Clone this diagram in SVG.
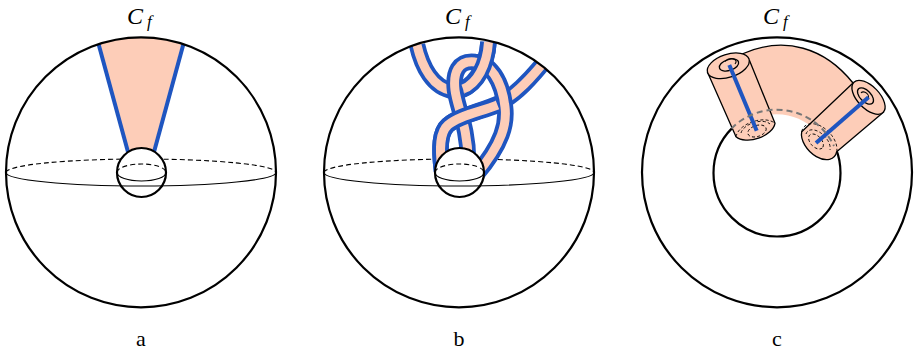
<svg xmlns="http://www.w3.org/2000/svg" xmlns:xlink="http://www.w3.org/1999/xlink" width="914" height="351" viewBox="0 0 914 351">
<style>
.sphere{fill:none;stroke:#000;stroke-width:2.2}
.small{fill:#fff;stroke:#000;stroke-width:2.2}
.thin{fill:none;stroke:#000;stroke-width:1.1}
.dash{fill:none;stroke:#000;stroke-width:1.1;stroke-dasharray:5 3}
.fdash{fill:none;stroke:#000;stroke-width:.9;stroke-dasharray:3 2.2}
.peach{fill:#fdcdb8;stroke:none}
.blue{fill:none;stroke:#1f55c0;stroke-width:4}
.be{fill:none;stroke:#1f55c0;stroke-width:16.5}
.bi{fill:none;stroke:#fdcdb8;stroke-width:9}
.cyl{fill:#fdcdb8;stroke:#000;stroke-width:1.3;stroke-linejoin:round}
.grey{fill:none;stroke:#777;stroke-width:2;stroke-dasharray:6 4}
text{font-family:"Liberation Serif",serif;fill:#000}
.t{font-size:24px;font-style:italic}
.s{font-size:17px}
.l{font-size:22px;text-anchor:middle}
</style>
<defs>
<clipPath id="ca"><circle cx="141" cy="172.3" r="135"/></clipPath>
<clipPath id="cb"><circle cx="459" cy="172.3" r="135"/></clipPath>
<path id="bU" d="M417,45 C422,67 433,88 453,91 C472,92 487,67 488.500,42"/>
<path id="bUtop" d="M463,89 C477,84 487,65 488.500,42"/>
<path id="bLoop" d="M476,175 C503,143 507,123 505,107 C502,80 490,63 475,62 C458,60 453,73 455,90 C457,107 468,127 468,160"/>
<path id="bC" d="M549,56 C530,80 517,93 502,102 C480,112 460,115 448,125 C440,132 439,147 442,171"/>
<path id="bCtop" d="M497.500,105 C480,112 460,115 448,125 C440,132 439,147 442,171"/>
</defs>

<g id="panel-a">
<path class="peach" clip-path="url(#ca)" d="M97,30 L185,30 L154,155 L128,155 Z"/>
<path class="dash" d="M6,172.500 A135,13.500 0 0 1 276,172.500"/>
<g clip-path="url(#ca)">
<path class="blue" d="M98,42 L128,152"/>
<path class="blue" d="M184,42 L154,152"/>
</g>
<circle class="sphere" cx="141" cy="172.300" r="135"/>
<circle class="small" cx="141.500" cy="172.500" r="24.500"/>
<path class="dash" d="M117,172.500 A24.500,8.500 0 0 1 166,172.500"/>
<path class="thin" d="M117,172.500 A24.500,8.500 0 0 0 166,172.500"/>
<path class="thin" d="M6,172.500 A135,13.500 0 0 0 276,172.500"/>
<text class="t" x="127" y="24">C<tspan class="s" x="147" y="27">f</tspan></text>
<text class="l" x="141" y="346">a</text>
</g>

<g id="panel-b">
<path class="dash" d="M324,172.500 A135,13.500 0 0 1 594,172.500"/>
<g clip-path="url(#cb)">
<use xlink:href="#bC" class="be"/><use xlink:href="#bC" class="bi"/>
<use xlink:href="#bU" class="be"/><use xlink:href="#bU" class="bi"/>
<use xlink:href="#bLoop" class="be"/><use xlink:href="#bLoop" class="bi"/>
<use xlink:href="#bUtop" class="be"/><use xlink:href="#bUtop" class="bi"/>
<use xlink:href="#bCtop" class="be"/><use xlink:href="#bCtop" class="bi"/>
</g>
<circle class="sphere" cx="459" cy="172.300" r="135"/>
<circle class="small" cx="459.500" cy="172.500" r="24.500"/>
<path class="dash" d="M435,172.500 A24.500,8.500 0 0 1 484,172.500"/>
<path class="thin" d="M435,172.500 A24.500,8.500 0 0 0 484,172.500"/>
<path class="thin" d="M324,172.500 A135,13.500 0 0 0 594,172.500"/>
<text class="t" x="445" y="24">C<tspan class="s" x="465" y="27">f</tspan></text>
<text class="l" x="459" y="346">b</text>
</g>

<g id="panel-c">
<circle class="sphere" cx="777" cy="172.300" r="135"/>
<circle class="sphere" cx="777" cy="173" r="63.500"/>
<path class="peach" d="M742,54 C785,35 825,48 853,83 L815,130 C805,120 788,112 768,115 L745,80 Z"/>
<path class="thin" style="stroke-width:1.3" d="M742,54 C785,35 825,48 853,83"/>
<g id="tube-left">
<path class="cyl" d="M707.300,71.700 L736,136.700 A21.800,13 -18 0 0 775,123.300 L749.300,60"/>
<ellipse class="cyl" cx="728.300" cy="65.800" rx="21.800" ry="11.500" transform="rotate(-18 728.300 65.800)"/>
<ellipse class="thin" style="stroke-width:1.3" cx="729" cy="65" rx="10" ry="5.500" transform="rotate(-18 729 65)"/>
<path class="thin" d="M725,61.500 A5,3 -18 0 1 735,64"/>
<path class="dash" style="stroke-width:.9;stroke-dasharray:3 2.200" d="M736,136.700 A21.800,13 -18 0 1 775,123.300"/>
<path class="fdash" d="M741,133 A16,9 -18 0 1 770,124"/>
<ellipse class="fdash" cx="757" cy="131" rx="9.500" ry="5.500" transform="rotate(-18 757 131)"/>
<path class="blue" d="M729.300,65 L756.700,130.700"/>
</g>
<g id="tube-right">
<path class="cyl" d="M853,83 L801.700,131.700 A21,13.500 46 0 0 836.700,151.700 L884,111.700"/>
<ellipse class="cyl" cx="868.500" cy="97.300" rx="21" ry="11" transform="rotate(46 868.500 97.300)"/>
<ellipse class="thin" style="stroke-width:1.3" cx="865.500" cy="96" rx="10" ry="5.500" transform="rotate(46 865.500 96)"/>
<path class="thin" d="M861,93 A4,3 46 0 1 868,99"/>
<path class="dash" style="stroke-width:.9;stroke-dasharray:3 2.200" d="M801.700,131.700 A21,13.500 46 0 1 836.700,151.700"/>
<path class="fdash" d="M806,134 A15,9 46 0 1 830,150"/>
<ellipse class="fdash" cx="816" cy="141.500" rx="9" ry="5.500" transform="rotate(46 816 141.500)"/>
<path class="blue" d="M868.500,97.300 L816,143"/>
</g>
<path class="grey" d="M731.500,128.500 A63.500,63.500 0 0 1 834,146"/>
<text class="t" x="763" y="24">C<tspan class="s" x="783" y="27">f</tspan></text>
<text class="l" x="777" y="346">c</text>
</g>
</svg>
